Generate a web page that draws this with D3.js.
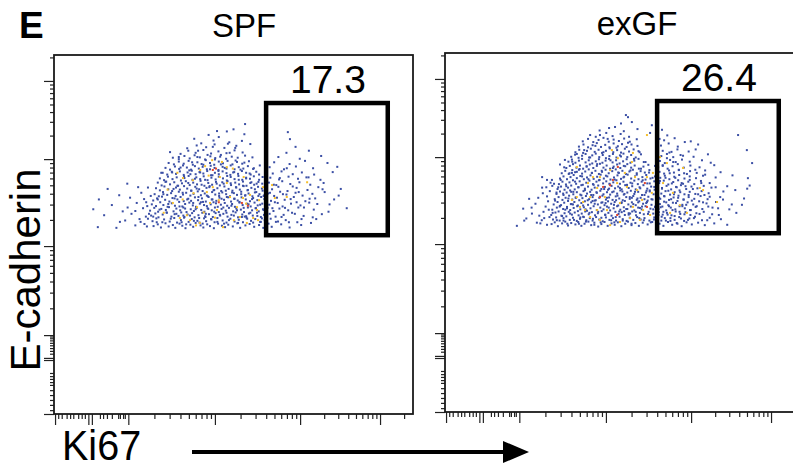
<!DOCTYPE html>
<html><head><meta charset="utf-8">
<script src="https://cdn.jsdelivr.net/npm/d3@7"></script>
<style>body{margin:0;background:#fff}svg{display:block}</style>
</head><body>
<svg id="c" width="793" height="470"></svg>
<script>
// ---------- DATA (flow cytometry channel units, 0-1024) ----------
const panelTitles = ["SPF", "exGF"];
const gatePercents = ["17.3", "26.4"];
const gateX = [605, 952];
const gateY = [510, 887];
const xMajorTicks = [3, 98, 108, 212, 459, 702, 930];
const xMinorTicksLow = [12, 22, 36, 46, 55, 69, 79, 88, 131, 140, 151, 165, 183, 188, 197, 202];
const xDecades = [212, 459, 702, 930, 1158];
const yMajorTicks = [0, 154, 160, 225, 479, 727, 950];
const yMinorTicksLow = [11, 26, 40, 54, 68, 83, 91, 100, 108, 117, 172, 180, 188, 196, 203, 210, 216, 221];
const yDecades = [225, 479, 727, 950, 1173];

const spfBlue = [
[125,533],[178,531],[232,538],[258,542],[284,536],[296,541],[305,532],[318,544],[327,535],[339,539],[346,531],[358,543],[366,537],[375,530],[389,540],[397,534],[404,545],[418,538],[426,532],[437,541],[445,536],[456,530],[468,543],[479,537],[488,533],[497,540],[510,535],[523,544],[531,531],[546,538],[558,542],[571,534],[585,539],[597,531],[621,534],[648,541],[672,532],[705,539],[733,545],[612,543],
[203,552],[247,548],[268,557],[281,550],[292,558],[309,547],[314,555],[330,549],[343,559],[351,546],[362,553],[371,560],[384,548],[393,556],[409,551],[415,546],[428,558],[434,550],[449,555],[458,547],[466,559],[481,552],[492,546],[503,557],[515,549],[527,554],[539,547],[549,560],[562,551],[574,556],[588,548],[593,558],[601,553],[618,557],[639,549],[661,553],[694,547],[748,556],
[143,567],[221,571],[262,563],[277,566],[289,572],[298,561],[310,569],[322,574],[335,563],[344,570],[355,565],[363,575],[372,562],[381,569],[394,573],[401,561],[412,567],[423,574],[431,564],[442,570],[453,562],[461,573],[474,566],[483,571],[495,563],[506,568],[518,575],[525,561],[537,569],[548,564],[556,572],[567,566],[579,574],[590,562],[599,568],[615,571],[632,563],[655,568],[679,574],[712,565],[764,570],
[112,584],[196,578],[254,587],[274,580],[286,588],[297,577],[306,585],[319,582],[328,590],[341,578],[349,586],[360,581],[369,589],[378,576],[390,584],[399,579],[407,588],[420,582],[429,577],[438,587],[450,581],[459,589],[470,576],[478,585],[490,580],[499,588],[511,578],[520,586],[533,583],[542,576],[553,589],[565,581],[576,587],[584,578],[596,584],[609,588],[626,579],[643,586],[668,581],[697,589],[741,583],
[165,596],[236,602],[266,593],[279,598],[291,593],[303,604],[312,596],[324,591],[336,601],[345,594],[357,605],[366,592],[374,599],[386,603],[396,595],[405,591],[416,600],[425,605],[436,593],[447,598],[455,604],[467,591],[476,597],[487,602],[494,594],[508,599],[516,591],[529,605],[538,596],[551,600],[561,592],[572,603],[581,595],[594,600],[603,593],[614,597],[630,604],[652,592],[676,600],[703,595],[728,603],[786,598],
[128,612],[217,617],[283,609],[294,615],[308,620],[317,611],[329,606],[338,616],[352,612],[361,619],[370,607],[383,614],[391,608],[402,618],[411,610],[422,615],[433,606],[441,619],[452,612],[463,608],[472,617],[485,611],[493,619],[505,606],[514,614],[524,609],[535,618],[547,612],[559,607],[568,616],[580,610],[591,619],[600,613],[619,608],[636,617],[658,611],[684,619],[717,607],[745,615],[799,612],
[186,624],[249,631],[287,627],[299,621],[311,633],[323,625],[334,630],[347,622],[356,634],[368,626],[377,631],[389,623],[398,628],[410,635],[419,624],[430,629],[439,621],[451,633],[460,626],[471,622],[480,632],[491,627],[502,621],[513,630],[522,625],[534,634],[545,623],[555,629],[566,621],[577,633],[586,627],[598,622],[611,629],[628,622],[645,634],[663,626],[689,631],[709,623],[737,628],[772,633],
[153,642],[240,647],[291,644],[302,638],[315,649],[326,641],[337,636],[348,646],[359,640],[371,650],[380,643],[392,637],[403,648],[414,641],[424,636],[435,645],[444,650],[457,639],[466,644],[477,636],[486,649],[498,642],[509,637],[519,647],[530,640],[541,650],[552,638],[563,645],[573,641],[582,648],[595,637],[606,643],[622,641],[640,648],[666,636],[692,645],[723,639],[754,647],[818,642],
[209,657],[296,660],[307,652],[320,663],[331,655],[343,661],[354,651],[365,658],[376,664],[387,653],[397,660],[408,655],[418,665],[429,651],[440,659],[451,654],[462,662],[473,652],[484,657],[495,664],[505,653],[517,660],[528,655],[539,663],[549,651],[560,659],[571,654],[583,662],[594,657],[613,660],[634,653],[651,664],[674,656],[700,661],[731,654],[769,659],
[302,672],[314,667],[325,677],[338,670],[350,675],[362,666],[372,673],[384,679],[395,668],[406,675],[417,670],[427,678],[438,667],[449,674],[461,669],[470,677],[482,672],[493,666],[504,676],[515,670],[526,679],[537,668],[548,674],[559,671],[570,678],[585,668],[617,674],[642,669],[669,677],[696,671],[726,675],[760,668],
[310,688],[323,683],[336,691],[348,685],[359,692],[370,682],[381,689],[393,694],[404,684],[415,690],[426,686],[437,693],[448,681],[459,688],[470,684],[481,692],[492,687],[503,682],[514,690],[525,685],[536,693],[548,688],[561,683],[577,691],[624,686],[649,692],[681,684],[707,689],[742,683],[795,690],
[318,702],[331,697],[345,706],[357,699],[368,709],[379,703],[391,697],[402,707],[413,700],[424,705],[436,698],[447,708],[458,702],[469,696],[481,705],[492,700],[504,709],[515,698],[527,704],[540,700],[553,707],[568,699],[615,704],[656,698],[690,706],[739,701],[808,705],
[327,716],[342,712],[356,720],[370,714],[384,722],[396,711],[409,718],[421,713],[433,724],[445,716],[457,711],[470,720],[482,715],[495,722],[509,712],[522,719],[537,714],[556,721],[628,718],[672,713],[716,722],[780,716],
[339,731],[356,727],[372,736],[387,729],[401,738],[416,732],[431,726],[446,735],[460,730],[476,739],[491,728],[507,734],[524,731],[545,737],[640,733],[701,728],[762,736],
[331,747],[361,742],[383,751],[404,745],[426,753],[448,743],[469,749],[492,744],[515,752],[538,746],[663,745],[727,751],
[380,758],[407,766],[434,761],[458,769],[486,759],[520,765],[560,770],[689,762],
[420,772],[455,780],[400,785],[500,775],[536,779],[673,784],
[470,790],[441,796],[543,798],[667,804],[465,807],[493,806],[512,812],[545,827],
[293,547],[301,583],[312,627],[318,662],[326,599],[333,557],[337,689],[344,615],[349,571],[352,651],[358,592],[361,703],[364,547],[367,631],[371,678],[374,586],[377,541],[380,612],[383,659],[386,695],[388,566],[391,637],[394,718],[397,602],[399,551],[402,671],[404,584],[407,643],[409,733],[412,619],[414,559],[417,689],[419,604],[421,654],[424,543],[426,711],[428,596],[431,668],[433,571],[436,623],[438,739],[440,585],[443,647],[445,698],[448,556],[450,612],[452,681],[455,638],[457,577],[459,726],[462,601],[464,657],[466,548],[469,693],[471,629],[473,568],[476,712],[478,614],[480,661],[483,589],[485,543],[487,702],[490,637],[492,574],[494,679],[497,618],[499,553],[501,745],[504,658],[506,594],[508,632],[511,689],[513,566],[515,614],[518,723],[520,646],[522,581],[525,545],[527,668],[529,603],[532,697],[534,627],[536,562],[539,651],[541,588],[543,717],[546,624],[548,672],[551,557],[553,639],[555,598],[558,686],[560,574],[563,661],[565,613],[568,546],[570,701],[573,632],[575,587],[578,657],[580,565],[583,622],[585,683],[588,597],[590,548],[593,643],[595,676],[598,582],[600,624],[603,559],
[283,563],[296,612],[306,688],[321,575],[341,642],[356,733],[369,566],[389,684],[411,751],[432,562],[453,762],[474,734],[496,771],[517,759],[544,563],[566,732],[587,709],
[608,566],[616,631],[623,587],[627,654],[633,548],[638,602],[644,673],[649,562],[653,627],[659,588],[664,701],[670,547],[675,613],[681,649],[687,571],[692,604],[698,633],[706,556],[713,589],[720,675],[729,614],[738,561],[751,599],[766,641],[783,577],[812,623],[835,587],
[232,579],[257,613],[268,646],[271,571],[244,556],[263,604],[210,589],[188,548],[276,622],[265,535]
];
const spfYellow = [
[417,696],[451,724],[479,719],[493,704],[368,673],[396,667],[339,602],[388,553],[416,545],[445,602],[465,582],[482,533],[502,619],[522,590],[539,616],[559,625],[579,582],[582,553],[596,647],[622,653],[630,616],[722,661],[664,619],[453,647],[436,633],[408,590],[379,567],[359,559],[530,562],[550,545],[568,559],[513,553],[493,659],[431,707],[473,676],[324,640],[352,688],[405,538],[459,560],[541,676],[470,610],[427,575],[398,630],[510,700],[367,612],[548,600],[585,610],[441,680],[313,574]
];
const spfRed = [[453,696],[462,700],[536,602],[553,594],[470,604]];

const exgfBlue = [
[205,531],[262,540],[291,534],[304,536],[313,541],[322,530],[334,538],[343,543],[351,532],[360,539],[372,535],[380,542],[389,531],[398,537],[409,543],[417,533],[426,540],[437,529],[446,536],[455,542],[464,531],[475,538],[484,534],[493,541],[503,530],[514,537],[522,543],[532,533],[543,539],[553,531],[564,540],[578,535],[591,542],[612,537],[623,531],[636,542],[648,534],[661,539],[675,530],[689,541],[704,535],[722,540],[741,533],[768,538],[805,534],
[232,552],[276,547],[298,556],[308,549],[317,555],[327,546],[338,553],[346,558],[356,548],[365,554],[376,545],[385,551],[394,557],[403,547],[413,553],[421,546],[431,556],[440,549],[450,544],[459,555],[469,548],[479,553],[488,546],[498,557],[507,550],[518,545],[527,554],[537,548],[548,556],[558,549],[569,553],[583,546],[597,555],[607,551],[618,557],[630,546],[643,553],[655,548],[668,556],[682,545],[697,552],[713,557],[733,547],[755,554],[787,550],
[248,566],[281,571],[269,560],[303,562],[315,569],[324,572],[332,560],[341,567],[353,571],[362,563],[370,569],[381,561],[390,566],[400,572],[410,564],[419,570],[428,561],[436,567],[447,573],[457,563],[466,568],[475,560],[486,571],[495,565],[504,570],[513,562],[524,567],[534,572],[545,561],[556,568],[567,564],[581,571],[594,566],[610,570],[621,563],[633,568],[646,561],[658,572],[671,565],[686,570],[700,562],[717,567],[738,571],[762,564],[831,568],
[223,580],[287,586],[306,577],[319,583],[328,588],[337,579],[348,585],[357,576],[367,582],[377,587],[386,578],[396,584],[405,574],[415,581],[424,587],[433,576],[443,583],[452,578],[462,586],[471,575],[481,581],[491,587],[500,577],[510,584],[520,579],[530,586],[540,575],[551,583],[561,578],[572,587],[586,580],[599,585],[609,579],[620,586],[631,575],[644,583],[657,578],[669,587],[684,581],[699,576],[715,585],[734,579],[751,586],[779,581],
[258,594],[294,601],[310,592],[321,599],[331,590],[340,597],[351,602],[359,593],[369,599],[379,589],[389,596],[399,601],[408,591],[417,598],[427,603],[436,592],[446,597],[455,590],[465,601],[474,594],[484,599],[494,589],[503,596],[513,602],[523,592],[533,598],[544,590],[554,601],[565,594],[576,599],[589,591],[602,597],[613,593],[625,600],[637,590],[650,597],[663,602],[677,591],[692,598],[708,592],[725,601],[746,595],[773,599],[818,592],
[291,615],[240,608],[313,607],[324,613],[335,605],[344,611],[354,617],[363,606],[373,612],[383,604],[392,610],[402,616],[411,607],[421,613],[430,604],[440,611],[449,617],[459,606],[468,612],[478,605],[487,615],[497,609],[507,604],[517,613],[527,608],[537,616],[547,605],[558,611],[569,607],[580,614],[592,606],[603,612],[614,608],[626,615],[639,605],[652,612],[666,617],[680,606],[695,613],[711,608],[729,616],[749,607],[785,613],[853,609],
[279,624],[299,630],[318,622],[328,629],[338,619],[347,626],[357,632],[366,621],[376,627],[386,620],[395,630],[405,623],[414,628],[423,619],[433,625],[443,631],[452,621],[462,627],[471,620],[481,629],[491,623],[500,632],[510,620],[520,626],[530,631],[540,622],[551,628],[562,619],[573,626],[584,632],[595,621],[605,627],[617,623],[629,630],[642,620],[655,627],[669,632],[683,621],[698,628],[714,622],[732,630],[752,624],[794,629],[740,619],
[277,640],[306,645],[321,636],[331,643],[341,634],[351,640],[360,646],[370,635],[380,641],[389,647],[399,637],[408,643],[418,634],[427,640],[437,646],[446,636],[456,642],[465,634],[475,645],[485,638],[494,643],[504,635],[514,647],[524,639],[534,644],[544,635],[555,641],[566,647],[577,637],[588,643],[598,634],[606,646],[619,639],[632,645],[645,635],[659,642],[673,647],[688,636],[703,643],[720,638],[738,645],[760,640],[805,644],[862,637],
[291,662],[311,651],[325,650],[335,657],[345,649],[355,655],[365,661],[374,651],[384,658],[393,648],[403,654],[412,660],[422,650],[432,657],[441,662],[451,652],[460,658],[470,649],[480,655],[489,661],[499,651],[509,657],[519,648],[529,654],[540,660],[550,650],[561,657],[572,663],[584,652],[597,658],[611,653],[624,660],[637,649],[651,656],[665,661],[679,651],[694,657],[711,650],[730,659],[755,653],[864,667],
[277,670],[305,662],[328,666],[338,672],[348,664],[358,670],[367,676],[376,667],[386,673],[396,664],[405,669],[415,675],[424,665],[434,671],[444,677],[453,666],[463,672],[472,663],[482,669],[492,675],[502,665],[511,671],[521,677],[531,666],[542,672],[552,664],[563,670],[574,676],[586,666],[599,672],[614,668],[627,674],[640,664],[654,671],[668,676],[683,666],[698,672],[716,667],[736,674],[772,669],[820,675],
[362,682],[376,685],[333,681],[343,688],[353,679],[363,690],[371,684],[382,691],[391,680],[400,686],[410,692],[419,682],[429,688],[439,679],[448,685],[458,691],[467,681],[477,687],[487,692],[496,682],[506,688],[516,679],[526,686],[536,691],[547,681],[558,687],[570,683],[583,690],[612,685],[625,680],[639,689],[653,683],[667,690],[682,681],[699,687],[718,682],[742,689],[786,684],
[328,706],[346,696],[356,702],[365,707],[375,697],[385,703],[394,694],[404,700],[413,706],[423,696],[433,702],[442,708],[452,697],[461,703],[471,694],[481,700],[491,706],[500,696],[510,702],[520,707],[531,697],[541,703],[553,694],[566,700],[580,705],[608,698],[621,704],[635,694],[649,701],[664,707],[681,697],[700,703],[726,698],[768,704],
[342,719],[352,714],[362,720],[372,711],[382,717],[391,722],[401,712],[410,718],[420,709],[430,715],[439,721],[449,711],[458,717],[468,722],[478,712],[488,718],[498,709],[508,715],[518,721],[529,711],[540,717],[552,722],[567,713],[613,716],[627,710],[642,719],[658,713],[676,720],[698,714],[733,718],[876,710],
[360,728],[371,734],[381,725],[391,731],[401,736],[411,726],[420,732],[430,737],[440,727],[450,733],[459,724],[469,730],[479,736],[489,726],[499,732],[509,737],[520,727],[531,733],[544,726],[559,735],[617,730],[633,736],[651,727],[672,733],[709,728],[750,735],
[372,741],[383,748],[394,739],[405,745],[416,751],[427,742],[438,748],[448,739],[459,745],[470,752],[480,741],[491,747],[502,740],[513,751],[525,743],[538,749],[555,741],[621,745],[640,740],[663,749],[695,743],[861,747],
[382,757],[395,763],[408,755],[421,761],[433,767],[445,756],[457,762],[469,755],[481,766],[493,758],[505,764],[518,756],[532,763],[549,759],[616,760],[638,766],[664,757],[722,763],
[393,772],[408,779],[423,770],[438,776],[452,782],[467,771],[481,777],[496,773],[511,780],[527,771],[547,778],[625,775],[655,781],[701,772],
[414,790],[442,790],[430,785],[460,796],[478,787],[501,793],[525,785],[585,796],[634,789],[836,790],
[441,803],[468,810],[485,813],[510,801],[549,807],[619,805],[533,827],[590,818],[502,823],[516,847],[522,841],
[307,568],[314,603],[319,547],[323,641],[327,586],[330,662],[334,559],[337,623],[340,698],[343,577],[346,644],[349,537],[352,609],[355,681],[357,566],[360,628],[363,714],[365,592],[368,548],[371,657],[373,611],[376,736],[379,573],[381,641],[384,693],[386,555],[389,618],[391,672],[394,589],[397,747],[399,633],[402,543],[404,701],[407,604],[409,664],[412,568],[414,726],[417,619],[419,682],[422,551],[424,648],[427,594],[429,759],[432,627],[434,707],[437,571],[439,661],[442,614],[444,541],[447,688],[449,598],[452,741],[454,636],[457,562],[459,674],[462,611],[464,779],[467,583],[469,651],[472,718],[474,547],[477,627],[479,696],[482,591],[484,663],[487,556],[489,754],[492,617],[494,683],[497,572],[499,639],[502,729],[504,598],[507,546],[509,669],[512,622],[514,701],[517,579],[519,647],[522,768],[524,563],[527,613],[529,689],[532,537],[534,652],[537,593],[539,722],[542,628],[544,571],[547,677],[549,609],[552,744],[554,553],[557,638],[559,694],[562,586],[564,661],[567,547],[569,619],[572,713],[574,596],[577,652],[579,565],[582,683],[584,629],[587,541],[589,607],[592,668],[594,578],[597,642],[599,702],[602,559],[604,621],
[338,546],[361,593],[382,537],[401,578],[421,602],[446,554],[468,637],[488,604],[511,573],[533,611],[556,582],[578,603],[596,549],[318,626],[348,581],[366,628],[396,556],[426,534],[458,596],[483,541],[506,629],[528,566],[551,598],[575,631],[600,586],
[609,562],[611,611],[613,659],[615,584],[617,546],[619,637],[621,702],[623,571],[625,616],[627,553],[629,668],[631,598],[633,724],[635,563],[637,631],[639,587],[641,681],[643,545],[645,607],[647,652],[649,576],[651,713],[653,621],[655,559],[657,668],[659,596],[661,641],[663,537],[665,611],[667,691],[669,571],[671,627],[673,552],[675,653],[677,587],[679,731],[681,606],[683,564],[686,644],[688,591],[690,679],[693,548],[695,619],[698,662],[701,576],[704,603],[707,636],[710,553],[714,691],[718,587],[722,621],[726,565],[731,653],[736,598],[742,677],[748,547],[755,614],[763,583],[772,641],[781,562],[793,606],[811,578],[828,633],[847,591],[869,646],[758,711],[715,749],[684,770],[646,742],[612,779],
[226,546],[247,583],[266,611],[283,553],[296,577],[272,538],[289,641],[301,654]
];
const exgfYellow = [
[576,790],[536,739],[533,713],[493,724],[471,690],[442,670],[491,653],[519,642],[548,633],[576,670],[593,682],[613,727],[633,710],[434,639],[414,613],[394,599],[376,613],[385,585],[434,576],[462,576],[499,596],[536,585],[565,576],[414,556],[442,548],[471,533],[499,542],[528,553],[556,548],[585,562],[679,696],[690,568],[727,639],[736,633],[776,599],[650,625],[670,590],[622,653],[642,568],[476,747],[399,576],[362,605],[422,670],[376,699],[456,613],[513,682],[542,670],[562,605],[590,625],[408,653]
];
const exgfRed = [[493,699],[479,662],[471,647],[570,653],[576,585],[451,642],[442,613],[491,562]];

// ---------- DRAWING ----------
const svg = d3.select("#c");
const font = "'Liberation Sans', Arial, Helvetica, sans-serif";
const size = 359;
const panels = [
  {x0: 54, y0: 55, title: panelTitles[0], pct: gatePercents[0], blue: spfBlue, yellow: spfYellow, red: spfRed, tx: 244, ty: 37},
  {x0: 445, y0: 53, title: panelTitles[1], pct: gatePercents[1], blue: exgfBlue, yellow: exgfYellow, red: exgfRed, tx: 637, ty: 35}
];

function logMinors(decades){
  const out = [];
  for (let i = 0; i < decades.length - 1; i++) {
    for (let k = 2; k <= 9; k++) out.push(decades[i] + (decades[i+1]-decades[i]) * Math.log10(k));
  }
  return out.filter(v => v <= 1024);
}
const xMinor = xMinorTicksLow.concat(logMinors(xDecades));
const yMinor = yMinorTicksLow.concat(logMinors(yDecades));

svg.append("text").attr("x", 19).attr("y", 38).attr("font-family", font)
  .attr("font-weight", "bold").attr("font-size", 37).text("E");

panels.forEach(p => {
  const x = d3.scaleLinear().domain([0, 1024]).range([p.x0, p.x0 + size]);
  const y = d3.scaleLinear().domain([0, 1024]).range([p.y0 + size, p.y0]);
  const g = svg.append("g");

  g.append("text").attr("x", p.tx).attr("y", p.ty).attr("text-anchor", "middle")
    .attr("font-family", font).attr("font-size", 33).text(p.title);

  const dots = [[p.blue, "#3b4fa5"], [p.yellow, "#f4bf2c"], [p.red, "#e2452c"]];
  dots.forEach(([arr, col]) => {
    g.append("g").selectAll("rect").data(arr).join("rect")
      .attr("x", d => x(d[0]) - 1).attr("y", d => y(d[1]) - 1)
      .attr("width", 2).attr("height", 2).attr("fill", col);
  });

  // axes
  const mk = (axis, vals, len) => axis.tickValues(vals).tickSize(len).tickSizeOuter(0).tickFormat("");
  [[xMajorTicks, 11], [xMinor, 5]].forEach(([vals, len]) => {
    const a = g.append("g").attr("transform", `translate(0,${p.y0 + size})`).call(mk(d3.axisBottom(x), vals, len));
    a.select(".domain").remove();
    a.selectAll("line").attr("stroke", "#222").attr("stroke-width", 1.2);
  });
  [[yMajorTicks, 10], [yMinor, 4]].forEach(([vals, len]) => {
    const a = g.append("g").attr("transform", `translate(${p.x0},0)`).call(mk(d3.axisLeft(y), vals, len));
    a.select(".domain").remove();
    a.selectAll("line").attr("stroke", "#222").attr("stroke-width", 1.2);
  });

  // frame
  g.append("rect").attr("x", p.x0).attr("y", p.y0).attr("width", size).attr("height", size)
    .attr("fill", "none").attr("stroke", "#1a1a1a").attr("stroke-width", 1.8);

  // gate
  g.append("rect").attr("x", x(gateX[0])).attr("y", y(gateY[1]))
    .attr("width", x(gateX[1]) - x(gateX[0])).attr("height", y(gateY[0]) - y(gateY[1]))
    .attr("fill", "none").attr("stroke", "#000").attr("stroke-width", 4.5);
  g.append("text").attr("x", (x(gateX[0]) + x(gateX[1])) / 2 + 1).attr("y", y(gateY[1]) - 10)
    .attr("text-anchor", "middle").attr("font-family", font).attr("font-size", 39).text(p.pct);
});

// axis titles
svg.append("text").attr("transform", "translate(40,270) rotate(-90)").attr("text-anchor", "middle")
  .attr("font-family", font).attr("font-size", 42).text("E-cadherin");
svg.append("text").attr("x", 62).attr("y", 460).attr("font-family", font)
  .attr("font-size", 43).attr("transform", "translate(62,0) scale(0.92,1) translate(-62,0)").text("Ki67");
svg.append("line").attr("x1", 192).attr("x2", 506).attr("y1", 452).attr("y2", 452)
  .attr("stroke", "#000").attr("stroke-width", 4);
svg.append("path").attr("d", "M503,441 L529,452 L503,463 Z").attr("fill", "#000");
</script>
</body></html>
